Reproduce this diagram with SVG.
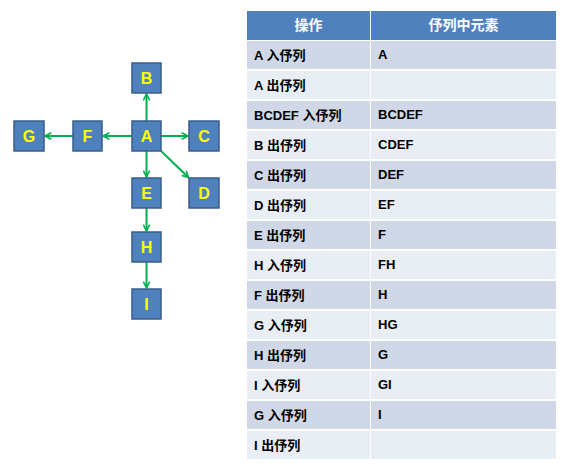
<svg xmlns="http://www.w3.org/2000/svg" width="565" height="467" viewBox="0 0 565 467">
<style>
.node rect{fill:#4F81BD;stroke:#385D8A;stroke-width:1.5}
.node text{fill:#FFFF00;font-family:"Liberation Sans","DejaVu Sans",sans-serif;font-weight:bold;font-size:16px;text-anchor:middle;dominant-baseline:central}
.edge{stroke:#00B050;stroke-width:2;fill:none;marker-end:url(#arr)}
.hdr{fill:#4F81BD}
.odd{fill:#D0D8E8}
.even{fill:#E9EDF4}
.ht{fill:#fff;font-family:"Liberation Sans","Noto Sans CJK SC",sans-serif;font-weight:bold;font-size:14px;text-anchor:middle;dominant-baseline:central}
.bt{fill:#000;font-family:"Liberation Sans","Noto Sans CJK SC",sans-serif;font-weight:bold;font-size:13px;dominant-baseline:central}
</style>
<defs>
<marker id="arr" viewBox="0 0 10 10" refX="9" refY="5" markerWidth="4" markerHeight="4" orient="auto" markerUnits="strokeWidth">
<polyline points="1,1 9,5 1,9" fill="none" stroke="#00B050" stroke-width="2"/>
</marker>
</defs>
<rect width="565" height="467" fill="#fff"/>
<g id="connectors">
<line class="edge" x1="146.5" y1="121" x2="146.5" y2="94"/>
<line class="edge" x1="161" y1="136" x2="188" y2="136"/>
<line class="edge" x1="132" y1="136" x2="103" y2="136"/>
<line class="edge" x1="73" y1="136" x2="45" y2="136"/>
<line class="edge" x1="146.5" y1="151" x2="146.5" y2="177"/>
<line class="edge" x1="161" y1="151" x2="188.5" y2="177.5"/>
<line class="edge" x1="146.5" y1="208" x2="146.5" y2="231"/>
<line class="edge" x1="146.5" y1="262" x2="146.5" y2="288"/>
</g>
<g id="node-B" class="node"><rect x="132" y="63" width="29" height="30"/><text x="146.5" y="78">B</text></g>
<g id="node-A" class="node"><rect x="132" y="121" width="29" height="30"/><text x="146.5" y="136">A</text></g>
<g id="node-C" class="node"><rect x="189" y="121" width="30" height="30"/><text x="204" y="136">C</text></g>
<g id="node-F" class="node"><rect x="73" y="121" width="29" height="30"/><text x="87.5" y="136">F</text></g>
<g id="node-G" class="node"><rect x="14" y="121" width="30" height="30"/><text x="29" y="136">G</text></g>
<g id="node-E" class="node"><rect x="132" y="178" width="29" height="30"/><text x="146.5" y="193">E</text></g>
<g id="node-D" class="node"><rect x="189" y="178" width="30" height="30"/><text x="204" y="193">D</text></g>
<g id="node-H" class="node"><rect x="132" y="232" width="29" height="30"/><text x="146.5" y="247">H</text></g>
<g id="node-I" class="node"><rect x="132" y="289" width="29" height="30"/><text x="146.5" y="304">I</text></g>
<g id="table">
<rect class="hdr" x="247" y="11" width="123" height="29"/>
<rect class="hdr" x="371" y="11" width="185" height="29"/>
<text class="ht" x="308.5" y="25">操作</text>
<text class="ht" x="463.5" y="25">伃列中元素</text>
<g>
<rect class="odd" x="247" y="41" width="123" height="28"/><rect class="odd" x="371" y="41" width="185" height="28"/>
<rect class="even" x="247" y="71" width="123" height="28"/><rect class="even" x="371" y="71" width="185" height="28"/>
<rect class="odd" x="247" y="101" width="123" height="28"/><rect class="odd" x="371" y="101" width="185" height="28"/>
<rect class="even" x="247" y="131" width="123" height="28"/><rect class="even" x="371" y="131" width="185" height="28"/>
<rect class="odd" x="247" y="161" width="123" height="28"/><rect class="odd" x="371" y="161" width="185" height="28"/>
<rect class="even" x="247" y="191" width="123" height="28"/><rect class="even" x="371" y="191" width="185" height="28"/>
<rect class="odd" x="247" y="221" width="123" height="28"/><rect class="odd" x="371" y="221" width="185" height="28"/>
<rect class="even" x="247" y="251" width="123" height="28"/><rect class="even" x="371" y="251" width="185" height="28"/>
<rect class="odd" x="247" y="281" width="123" height="28"/><rect class="odd" x="371" y="281" width="185" height="28"/>
<rect class="even" x="247" y="311" width="123" height="28"/><rect class="even" x="371" y="311" width="185" height="28"/>
<rect class="odd" x="247" y="341" width="123" height="28"/><rect class="odd" x="371" y="341" width="185" height="28"/>
<rect class="even" x="247" y="371" width="123" height="28"/><rect class="even" x="371" y="371" width="185" height="28"/>
<rect class="odd" x="247" y="401" width="123" height="28"/><rect class="odd" x="371" y="401" width="185" height="28"/>
<rect class="even" x="247" y="431" width="123" height="28"/><rect class="even" x="371" y="431" width="185" height="28"/>
</g>
<g>
<text class="bt" x="254" y="55">A 入伃列</text><text class="bt" x="378" y="54">A</text>
<text class="bt" x="254" y="85">A 出伃列</text>
<text class="bt" x="254" y="115">BCDEF 入伃列</text><text class="bt" x="378" y="114">BCDEF</text>
<text class="bt" x="254" y="145">B 出伃列</text><text class="bt" x="378" y="144">CDEF</text>
<text class="bt" x="254" y="175">C 出伃列</text><text class="bt" x="378" y="174">DEF</text>
<text class="bt" x="254" y="205">D 出伃列</text><text class="bt" x="378" y="204">EF</text>
<text class="bt" x="254" y="235">E 出伃列</text><text class="bt" x="378" y="234">F</text>
<text class="bt" x="254" y="265">H 入伃列</text><text class="bt" x="378" y="264">FH</text>
<text class="bt" x="254" y="295">F 出伃列</text><text class="bt" x="378" y="294">H</text>
<text class="bt" x="254" y="325">G 入伃列</text><text class="bt" x="378" y="324">HG</text>
<text class="bt" x="254" y="355">H 出伃列</text><text class="bt" x="378" y="354">G</text>
<text class="bt" x="254" y="385">I 入伃列</text><text class="bt" x="378" y="384">GI</text>
<text class="bt" x="254" y="415">G 入伃列</text><text class="bt" x="378" y="414">I</text>
<text class="bt" x="254" y="445">I 出伃列</text>
</g>
</g>
</svg>
